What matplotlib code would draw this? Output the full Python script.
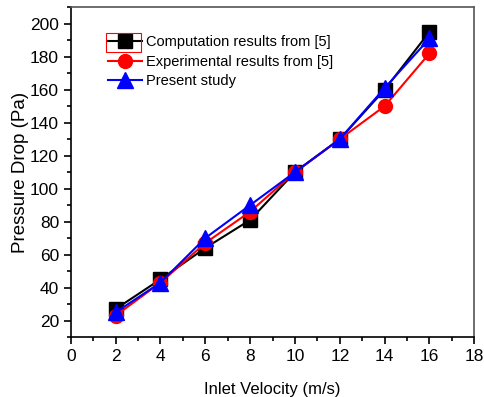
import matplotlib
matplotlib.use('Agg')
import matplotlib.pyplot as plt
from matplotlib.patches import Rectangle
from matplotlib.ticker import MultipleLocator

plt.rcParams['font.family'] = ['Liberation Sans', 'DejaVu Sans']

# data
velocity = [2, 4, 6, 8, 10, 12, 14, 16]
computation = [27, 45, 64, 81, 110, 130, 160, 195]
experimental = [23, 43, 67, 86, 110, 130, 150, 182]
present = [25, 43, 70, 90, 110, 130, 161, 191]

fig = plt.figure(figsize=(4.85, 3.97), dpi=100)
ax = fig.add_axes([0.146, 0.151, 0.832, 0.831])

ax.plot(velocity, computation, color='black', marker='s', markersize=10, lw=1.5,
        label='Computation results from [5]')
ax.plot(velocity, experimental, color='red', marker='o', markersize=10, lw=1.5,
        label='Experimental results from [5]')
ax.plot(velocity, present, color='blue', marker='^', markersize=11, lw=1.5,
        label='Present study')

ax.set_xlim(0, 18)
ax.set_ylim(10, 210)
ax.xaxis.set_major_locator(MultipleLocator(2))
ax.xaxis.set_minor_locator(MultipleLocator(1))
ax.yaxis.set_minor_locator(MultipleLocator(10))
ax.set_yticks([20, 40, 60, 80, 100, 120, 140, 160, 180, 200])
ax.tick_params(axis='both', which='major', direction='out', length=5, width=1.2,
               labelsize=12.5, colors='black')
ax.tick_params(axis='both', which='minor', direction='out', length=3, width=1.2)
for s in ax.spines.values():
    s.set_linewidth(1.2)
ax.spines['top'].set_color('#555555')
ax.spines['right'].set_color('#555555')

ax.set_xlabel('Inlet Velocity (m/s)', fontsize=12, labelpad=13)
ax.set_ylabel('Pressure Drop (Pa)', fontsize=13.5, labelpad=1)

leg = ax.legend(loc='upper left', bbox_to_anchor=(0.078, 0.932), frameon=False,
                fontsize=10.5, handlelength=2.3, handletextpad=0.3,
                labelspacing=0.36, borderaxespad=0)

# red frame around first legend handle, as in the original
fig.canvas.draw()
tb = leg.get_texts()[0].get_window_extent(fig.canvas.get_renderer())
cy = (tb.y0 + tb.y1) / 2
inv = fig.transFigure.inverted()
(x0, y0), (x1, y1) = inv.transform([(tb.x0 - 40, cy - 9.5), (tb.x0 - 5, cy + 9.5)])
fig.patches.append(Rectangle((x0, y0), x1 - x0, y1 - y0, transform=fig.transFigure,
                             fill=False, edgecolor='red', lw=0.8))

fig.savefig('out.png', dpi=100)
